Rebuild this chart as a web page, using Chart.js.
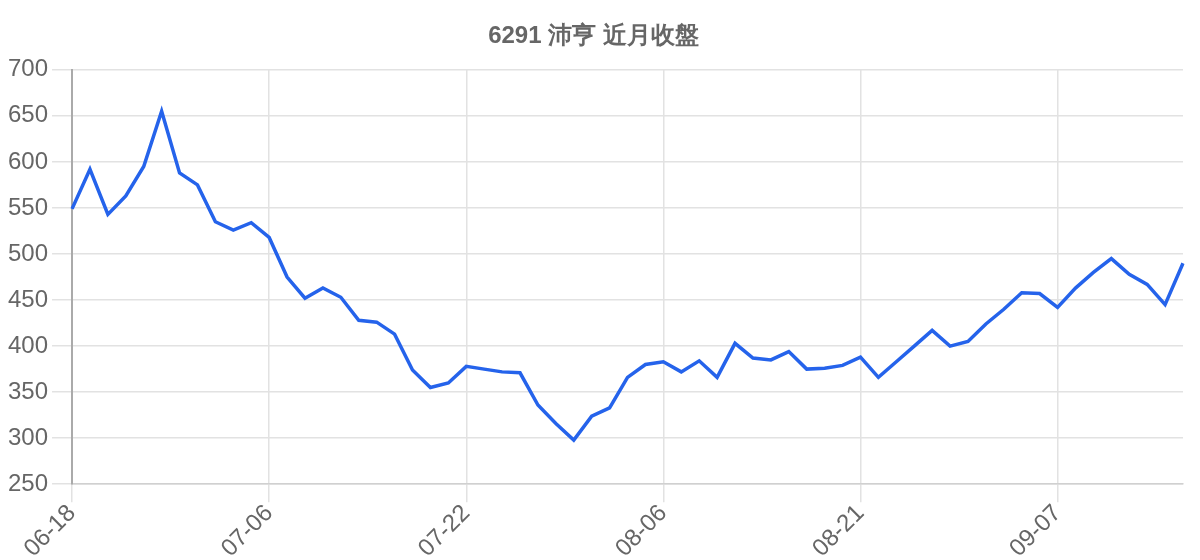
<!DOCTYPE html>
<html>
<head>
<meta charset="utf-8">
<script src="https://cdn.jsdelivr.net/npm/chart.js@4.4.1/dist/chart.umd.min.js"></script>
<style>
  html, body { margin: 0; padding: 0; background: #fff; }
  #wrap { width: 1200px; height: 560px; }
</style>
</head>
<body>
<div id="wrap"><canvas id="c"></canvas></div>
<script>
// trading days shown on the x axis (only every 11th label is drawn)
const dates = [
  '06-18','06-19','06-20','06-23','06-24','06-25','06-26','06-27','06-30','07-01','07-02',
  '07-06','07-07','07-08','07-09','07-10','07-13','07-14','07-15','07-16','07-17','07-20',
  '07-22','07-23','07-24','07-27','07-28','07-29','07-30','07-31','08-03','08-04','08-05',
  '08-06','08-07','08-10','08-11','08-12','08-13','08-14','08-17','08-18','08-19','08-20',
  '08-21','08-24','08-25','08-26','08-27','08-28','08-31','09-01','09-02','09-03','09-04',
  '09-07','09-08','09-09','09-10','09-11','09-14','09-15','09-16'
];

// closing prices
const closes = [
  549, 592, 543, 563, 595, 655, 588, 575, 535, 526, 534,
  518, 475, 452, 463, 453, 428, 426, 413, 374, 355, 360,
  378, 375, 372, 371, 336, 316, 298, 324, 333, 366, 380,
  383, 372, 384, 366, 403, 387, 385, 394, 375, 376, 379,
  388, 366, 383, 400, 417, 400, 405, 424, 440, 458, 457,
  442, 463, 480, 495, 478, 467, 445, 490
];

const yTicks = [250, 300, 350, 400, 450, 500, 550, 600, 650, 700];
const labelEvery = 11;

const font = "'Liberation Sans', Arial, sans-serif";

new Chart(document.getElementById('c'), {
  type: 'line',
  data: {
    labels: dates,
    datasets: [{
      label: '收盤',
      data: closes,
      borderColor: '#2563eb',
      borderWidth: 3.5,
      pointRadius: 0,
      tension: 0,
      fill: false
    }]
  },
  options: {
    responsive: true,
    maintainAspectRatio: false,
    animation: false,
    layout: { padding: { left: 4, right: 17, top: 8, bottom: 0 } },
    plugins: {
      legend: { display: false },
      tooltip: { enabled: false },
      title: {
        display: true,
        text: '6291 沛亨 近月收盤',
        color: '#666',
        font: { family: font, size: 24, weight: 'bold' },
        padding: { top: 14, bottom: 19 }
      }
    },
    scales: {
      x: {
        grid: { color: '#e2e2e2', lineWidth: 1.5, tickLength: 18 },
        border: { color: '#d0d0d0', width: 1.5 },
        ticks: {
          autoSkip: false,
          minRotation: 45,
          maxRotation: 45,
          color: '#666',
          padding: -3,
          font: { family: font, size: 24 },
          callback: (v, i) => (i % labelEvery === 0 ? dates[i] : null)
        }
      },
      y: {
        min: yTicks[0],
        max: yTicks[yTicks.length - 1],
        afterBuildTicks: axis => { axis.ticks = yTicks.map(v => ({ value: v })); },
        grid: { color: '#e2e2e2', lineWidth: 1.5, tickLength: 20 },
        border: { color: '#aaaaaa', width: 2 },
        ticks: {
          color: '#666',
          padding: 4,
          font: { family: font, size: 24 }
        }
      }
    }
  }
});
</script>
</body>
</html>
